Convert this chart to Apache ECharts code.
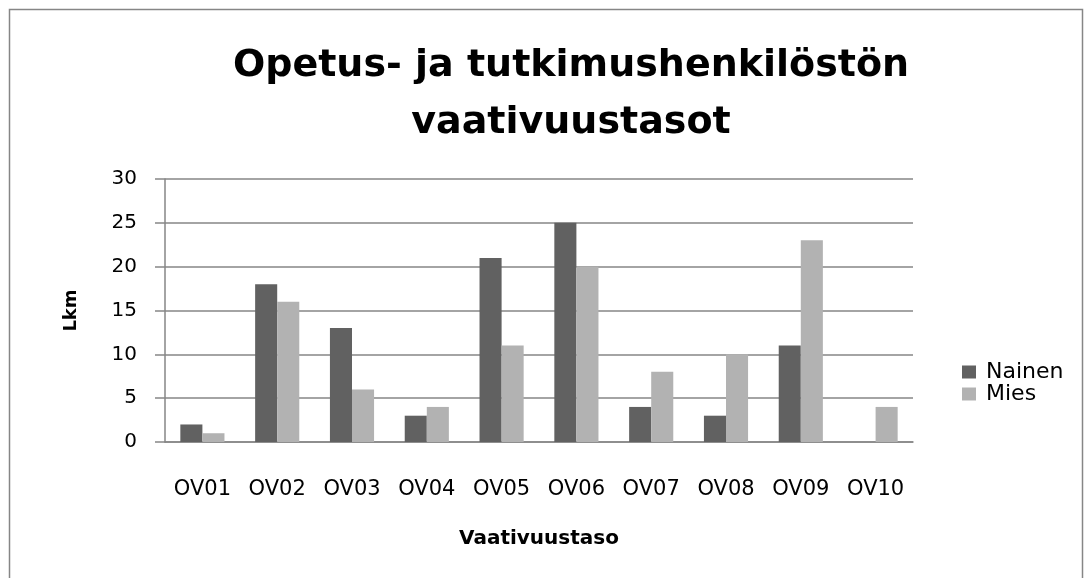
<!DOCTYPE html>
<html>
<head>
<meta charset="utf-8">
<script src="https://cdn.jsdelivr.net/npm/echarts@6/dist/echarts.min.js"></script>
<style>
html,body{margin:0;padding:0;background:#fff;}
#chart{width:1092px;height:578px;}
</style>
</head>
<body>
<div id="chart"></div>
<script>
var categories = ['OV01','OV02','OV03','OV04','OV05','OV06','OV07','OV08','OV09','OV10'];
var nainen = [2,18,13,3,21,25,4,3,11,0];
var mies = [1,16,6,4,11,20,8,10,23,4];

var myChart = echarts.init(document.getElementById('chart'));
var font = 'DejaVu Sans';
var option = {
    backgroundColor: '#fff',
    animation: false,
    graphic: [{
        type: 'rect',
        shape: {x: 9.5, y: 9.5, width: 1073, height: 575},
        style: {fill: 'none', stroke: '#868686', lineWidth: 1.5}
    }],
    title: {
        text: 'Opetus- ja tutkimushenkilöstön\nvaativuustasot',
        left: 566,          // otsikon keskikohta
        textAlign: 'center',
        top: 33,
        textStyle: {
            fontFamily: font,
            fontSize: 38,
            fontWeight: 'bold',
            color: '#000',
            lineHeight: 57
        }
    },
    legend: {
        orient: 'vertical',
        left: 957,
        top: 356,
        itemWidth: 14,
        itemHeight: 13,
        itemGap: 0,
        icon: 'rect',
        textStyle: {fontFamily: font, fontSize: 22, color: '#000', padding: [0, 0, 0, 5]},
        data: ['Nainen','Mies']
    },
    grid: {left: 165, right: 179, top: 179, bottom: 136},
    xAxis: {
        type: 'category',
        data: categories,
        name: 'Vaativuustaso',
        nameLocation: 'middle',
        nameGap: 87,
        nameTextStyle: {fontFamily: font, fontSize: 20, fontWeight: 'bold', color: '#000'},
        axisLine: {lineStyle: {color: '#868686', width: 1.5}},
        axisTick: {show: false},
        axisLabel: {fontFamily: font, fontSize: 21, color: '#000', margin: 37, interval: 0}
    },
    yAxis: {
        type: 'value',
        min: 0,
        max: 30,
        interval: 5,
        name: 'Lkm',
        nameLocation: 'middle',
        nameGap: 85,
        nameRotate: 90,
        nameTextStyle: {fontFamily: font, fontSize: 18, fontWeight: 'bold', color: '#000'},
        axisLine: {show: true, lineStyle: {color: '#868686', width: 1.5}},
        axisTick: {show: true, length: 10, lineStyle: {color: '#868686', width: 1.5}},
        splitLine: {lineStyle: {color: '#868686', width: 1.5}},
        axisLabel: {fontFamily: font, fontSize: 20, color: '#000', margin: 28}
    },
    series: [
        {
            name: 'Nainen',
            type: 'bar',
            data: nainen,
            barGap: '0%',
            barCategoryGap: '41%',
            itemStyle: {color: '#616161'}
        },
        {
            name: 'Mies',
            type: 'bar',
            data: mies,
            itemStyle: {color: '#b2b2b2'}
        }
    ]
};
myChart.setOption(option);
</script>
</body>
</html>
